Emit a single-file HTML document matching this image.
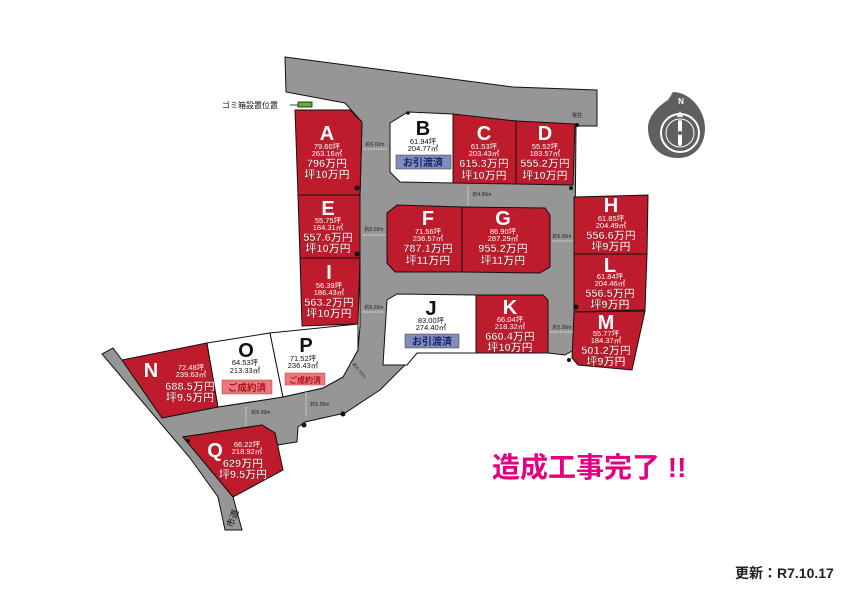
<!DOCTYPE html>
<html><head><meta charset="utf-8"><style>
html,body{margin:0;padding:0;background:#fff;}
svg{display:block;font-family:"Liberation Sans","Noto Sans CJK JP",sans-serif;}
.L{font-weight:bold;fill:#fff;font-size:20px;text-anchor:middle}
.W{font-weight:bold;fill:#111;font-size:20px;text-anchor:middle}
.s{fill:#fff;font-size:7.5px;text-anchor:middle}
.k{fill:#111;font-size:7.5px;text-anchor:middle}
.p{fill:#fff;font-weight:bold;font-size:11px;text-anchor:middle;stroke:#8a0f1c;stroke-width:0.4}
.d{fill:#222;font-size:5px;text-anchor:middle}
.lot{fill:#be1b2c;stroke:#111;stroke-width:1}
.wl{fill:#fff;stroke:#111;stroke-width:1}
</style></head><body>
<svg width="842" height="595" viewBox="0 0 842 595" xmlns="http://www.w3.org/2000/svg">
<polygon fill="#969696" stroke="#111" stroke-width="1" points="285,57 513,87 597,90 597,126 576,126 574,350 565,355 548,353 417,353 380,390 345,413 305,422 298,427 297,442 277,445 275,433 262,425 183,437 233,497 242,530 225,530 218,497 190,458 102,354 113,348 122,360 162,418 218,407 283,397 323,388 343,377 358,350 360,326 360,258 360,195 362,122 345,103 286,92"/>
<polygon class="lot" points="295,110 350,110 362,122 360,195 298,195"/>
<polygon class="lot" points="298,195 360,195 360,258 300,258"/>
<polygon class="lot" points="300,258 360,258 358,324 302,326"/>
<polygon class="wl" points="408,112 453,114 453,183 400,182 390,172 390,123"/>
<polygon class="lot" points="453,114 516,121 516,184 453,183"/>
<polygon class="lot" points="516,121 575,124 573,185 516,184"/>
<polygon class="lot" points="397,205 462,207 462,272 395,272 387,263 387,213"/>
<polygon class="lot" points="462,207 545,208 550,215 550,267 540,273 462,272"/>
<polygon class="lot" points="574,197 648,195 647,254 574,254"/>
<polygon class="lot" points="574,254 647,254 645,310 574,312"/>
<polygon class="lot" points="574,312 645,311 632,370 578,365 572,358"/>
<polygon class="wl" points="397,294 476,295 476,353 417,353 407,365 383,365 387,300"/>
<polygon class="lot" points="476,295 543,295 548,300 548,353 476,353"/>
<polygon class="lot" points="122,360 207,343 218,407 162,418"/>
<polygon class="wl" points="207,343 270,333 283,397 218,407"/>
<polygon class="wl" points="270,333 358,324 358,350 343,377 323,388 283,397"/>
<polygon class="lot" points="183,437 262,425 275,433 283,470 233,497"/>
<g fill="#111"><circle cx="357" cy="188" r="2.5"/><circle cx="357" cy="254" r="2.5"/><circle cx="408" cy="113" r="1.8"/><circle cx="571" cy="188" r="2"/><circle cx="577" cy="125" r="2"/><circle cx="576" cy="307" r="2.5"/><circle cx="569" cy="360" r="2"/><circle cx="188" cy="441" r="2"/><circle cx="304" cy="425" r="2.5"/><circle cx="343" cy="414" r="2.5"/></g>
<rect x="298" y="102" width="14" height="5" fill="#5cb531" stroke="#111" stroke-width="0.8"/>
<line x1="290" y1="105" x2="298" y2="105" stroke="#111" stroke-width="0.8"/>
<text x="222" y="108" font-size="8" fill="#111">ゴミ箱設置位置</text>
<text x="577" y="117" class="d">電柱</text>
<text x="232" y="522" font-size="9" fill="#111" transform="rotate(-70 232 518)" text-anchor="middle">市道</text>
<g stroke="#fff" stroke-width="0.7" stroke-dasharray="1.5,1">
<line x1="363" y1="149" x2="387" y2="149"/><line x1="363" y1="235" x2="386" y2="235"/><line x1="362" y1="312" x2="385" y2="312"/>
<line x1="468" y1="186" x2="468" y2="205"/><line x1="552" y1="241" x2="573" y2="241"/><line x1="550" y1="332" x2="573" y2="332"/>
<line x1="246" y1="407" x2="246" y2="427"/><line x1="306" y1="392" x2="306" y2="416"/><line x1="351" y1="364" x2="365" y2="378"/>
</g>
<text x="375" y="146" class="d">約6.02m</text><text x="374" y="231" class="d">約6.02m</text><text x="374" y="309" class="d">約6.02m</text>
<text x="482" y="196" class="d">約4.80m</text><text x="562" y="238" class="d">約5.00m</text><text x="562" y="329" class="d">約5.00m</text>
<text x="261" y="414" class="d">約5.00m</text><text x="320" y="406" class="d">約5.50m</text><text x="358" y="372" class="d" transform="rotate(48 358 372)">約5.50m</text>
<text x="327" y="140" class="L">A</text><text x="327" y="149" class="s">79.60坪</text><text x="327" y="156" class="s">263.16㎡</text><text x="327" y="167" class="p">796万円</text><text x="327" y="178" class="p">坪10万円</text>
<text x="423" y="135" class="W">B</text><text x="423" y="144" class="k">61.94坪</text><text x="423" y="151" class="k">204.77㎡</text>
<rect x="396" y="155" width="55" height="14" fill="#7f8fb8" stroke="#333" stroke-width="0.5"/><text x="423" y="166" font-size="10" fill="#1a2270" text-anchor="middle" font-weight="bold">お引渡済</text>
<text x="484" y="140" class="L">C</text><text x="484" y="149" class="s">61.53坪</text><text x="484" y="156" class="s">203.43㎡</text><text x="484" y="167" class="p">615.3万円</text><text x="484" y="179" class="p">坪10万円</text>
<text x="545" y="140" class="L">D</text><text x="545" y="149" class="s">55.52坪</text><text x="545" y="156" class="s">183.57㎡</text><text x="545" y="167" class="p">555.2万円</text><text x="545" y="179" class="p">坪10万円</text>
<text x="328" y="215" class="L">E</text><text x="328" y="223" class="s">55.75坪</text><text x="328" y="230" class="s">184.31㎡</text><text x="328" y="241" class="p">557.6万円</text><text x="328" y="252" class="p">坪10万円</text>
<text x="329" y="279" class="L">I</text><text x="329" y="288" class="s">56.39坪</text><text x="329" y="295" class="s">186.43㎡</text><text x="329" y="306" class="p">563.2万円</text><text x="329" y="317" class="p">坪10万円</text>
<text x="428" y="225" class="L">F</text><text x="428" y="234" class="s">71.56坪</text><text x="428" y="241" class="s">236.57㎡</text><text x="428" y="252" class="p">787.1万円</text><text x="428" y="264" class="p">坪11万円</text>
<text x="503" y="225" class="L">G</text><text x="503" y="234" class="s">86.90坪</text><text x="503" y="241" class="s">287.29㎡</text><text x="503" y="252" class="p">955.2万円</text><text x="503" y="264" class="p">坪11万円</text>
<text x="611" y="212" class="L">H</text><text x="611" y="221" class="s">61.85坪</text><text x="611" y="228" class="s">204.49㎡</text><text x="611" y="239" class="p">556.6万円</text><text x="611" y="250" class="p">坪9万円</text>
<text x="610" y="272" class="L">L</text><text x="610" y="279" class="s">61.84坪</text><text x="610" y="286" class="s">204.46㎡</text><text x="610" y="297" class="p">556.5万円</text><text x="610" y="308" class="p">坪9万円</text>
<text x="606" y="329" class="L">M</text><text x="606" y="336" class="s">55.77坪</text><text x="606" y="343" class="s">184.37㎡</text><text x="606" y="354" class="p">501.2万円</text><text x="606" y="365" class="p">坪9万円</text>
<text x="431" y="315" class="W">J</text><text x="431" y="323" class="k">83.00坪</text><text x="431" y="330" class="k">274.40㎡</text>
<rect x="405" y="334" width="54" height="14" fill="#7f8fb8" stroke="#333" stroke-width="0.5"/><text x="432" y="345" font-size="10" fill="#1a2270" text-anchor="middle" font-weight="bold">お引渡済</text>
<text x="510" y="314" class="L">K</text><text x="510" y="322" class="s">66.04坪</text><text x="510" y="329" class="s">218.32㎡</text><text x="510" y="340" class="p">660.4万円</text><text x="510" y="351" class="p">坪10万円</text>
<text x="151" y="377" class="L">N</text><text x="191" y="370" class="s">72.48坪</text><text x="191" y="377" class="s">239.63㎡</text><text x="190" y="390" class="p">688.5万円</text><text x="190" y="401" class="p">坪9.5万円</text>
<text x="246" y="357" class="W">O</text><text x="245" y="365" class="k">64.53坪</text><text x="245" y="373" class="k">213.33㎡</text>
<rect x="222" y="380" width="50" height="14" fill="#e9787f" stroke="#c33" stroke-width="0.5"/><text x="247" y="391" font-size="9.5" fill="#b0101c" text-anchor="middle" font-weight="bold">ご成約済</text>
<text x="306" y="352" class="W">P</text><text x="303" y="361" class="k">71.52坪</text><text x="303" y="368" class="k">236.43㎡</text>
<rect x="285" y="373" width="40" height="12" fill="#e9787f" stroke="#c33" stroke-width="0.5"/><text x="305" y="383" font-size="8" fill="#b0101c" text-anchor="middle" font-weight="bold">ご成約済</text>
<text x="215" y="457" class="L">Q</text><text x="247" y="447" class="s">66.22坪</text><text x="247" y="454" class="s">218.92㎡</text><text x="243" y="467" class="p">629万円</text><text x="243" y="478" class="p">坪9.5万円</text>
<path d="M673,92 C690,92 705,110 705,128 C705,145 695,158 678,158 C660,158 648,146 648,128 C648,115 660,105 668,100 Z" fill="#5f5f5f"/>
<circle cx="680" cy="133" r="19" fill="none" stroke="#fff" stroke-width="2"/>
<circle cx="680" cy="133" r="14" fill="#5f5f5f" stroke="#fff" stroke-width="1"/>
<polygon points="680,111 683,117 677,117" fill="#fff"/>
<rect x="678" y="120" width="4" height="26" rx="2" fill="#fff"/>
<circle cx="680" cy="133" r="2" fill="#5f5f5f"/>
<text x="681" y="104" font-size="8" fill="#fff" text-anchor="middle" font-weight="bold">N</text>
<text x="492" y="477" font-size="28" font-weight="bold" fill="#e4007f">造成工事完了 !!</text>
<text x="735" y="578" font-size="14" font-weight="bold" fill="#222">更新：R7.10.17</text>
</svg>
</body></html>
